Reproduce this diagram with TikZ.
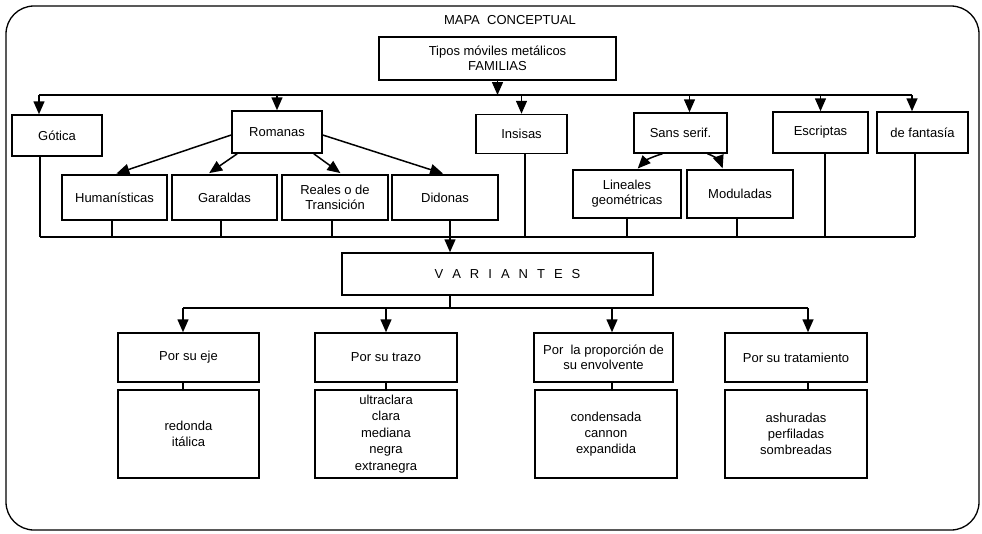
\documentclass[tikz,border=0pt]{standalone}
\usepackage{fontspec}
\setmainfont{Liberation Sans}
\usetikzlibrary{arrows.meta,calc}
\begin{document}
\begin{tikzpicture}[x=1pt,y=-1pt,
  box/.style={draw, line width=1.5pt, inner sep=0pt, align=center, font=\fontsize{13}{15}\selectfont},
  arr/.style={line width=1.5pt, -{Triangle[length=13pt,width=11pt]}},
  ln/.style={line width=1.5pt}]
\useasboundingbox (0,0) rectangle (982,533);
\draw[line width=1.3pt, rounded corners=28pt] (6,6) rectangle (979,530);

\node[font=\fontsize{13}{15}\selectfont] (title) at (510,20) {MAPA\ \ CONCEPTUAL};
\node[box, minimum width=237pt, minimum height=43pt] (tipos) at (497.5,58.5) {Tipos móviles metálicos\\FAMILIAS};

% first row
\node[box, minimum width=90pt, minimum height=41pt] (gotica) at (57,135.5) {Gótica};
\node[box, minimum width=90pt, minimum height=42pt] (romanas) at (277,132) {Romanas};
\node[box, minimum width=91pt, minimum height=39pt] (insisas) at (521.5,134) {Insisas};
\node[box, minimum width=93pt, minimum height=40pt] (sans) at (680.5,133) {Sans serif.};
\node[box, minimum width=95pt, minimum height=41pt] (escriptas) at (820.5,132.5) {Escriptas};
\node[box, minimum width=91pt, minimum height=41pt] (fantasia) at (922.5,132.5) {de fantasía};

% second row
\node[box, minimum width=105pt, minimum height=45pt] (hum) at (114.5,197.5) {Humanísticas};
\node[box, minimum width=105pt, minimum height=45pt] (gar) at (224.5,197.5) {Garaldas};
\node[box, minimum width=106pt, minimum height=45pt] (rea) at (335,197.5) {Reales o de\\Transición};
\node[box, minimum width=106pt, minimum height=45pt] (did) at (445,197.5) {Didonas};
\node[box, minimum width=108pt, minimum height=48pt] (lin) at (627,194) {Lineales\\geométricas};
\node[box, minimum width=106pt, minimum height=48pt] (mod) at (740,194) {Moduladas};

% variantes
\node[box, minimum width=311pt, minimum height=42pt] (var) at (497.5,274)
  {\hspace*{20pt}V\hspace{9pt}A\hspace{9pt}R\hspace{9pt}I\hspace{9pt}A\hspace{9pt}N\hspace{9pt}T\hspace{9pt}E\hspace{9pt}S};

\node[box, minimum width=141pt, minimum height=49pt] (eje) at (188.5,357.5) {Por su eje};
\node[box, minimum width=142pt, minimum height=49pt] (trazo) at (386,357.5) {Por su trazo};
\node[box, minimum width=139pt, minimum height=49pt] (prop) at (603.5,357.5) {Por\ \ la proporción de\\su envolvente};
\node[box, minimum width=142pt, minimum height=49pt] (trat) at (796,357.5) {Por su tratamiento};

\node[box, minimum width=141pt, minimum height=88pt, font=\fontsize{13}{16}\selectfont] (redonda) at (188.5,434) {redonda\\itálica};
\node[box, minimum width=142pt, minimum height=88pt, font=\fontsize{13}{16.5}\selectfont] (trazol) at (386,434) {ultraclara\\clara\\mediana\\negra\\extranegra};
\node[box, minimum width=142pt, minimum height=88pt, font=\fontsize{13}{16}\selectfont] (cond) at (606,434) {condensada\\cannon\\expandida};
\node[box, minimum width=142pt, minimum height=88pt, font=\fontsize{13}{16}\selectfont] (ashur) at (796,434) {ashuradas\\perfiladas\\sombreadas};

% top bus
\coordinate (tb1) at (39,95);
\coordinate (tb2) at (912,95);
\draw[ln] (tb1) -- (tb2);
\draw[arr] (tipos.south) -- (tipos.south |- tb1);
\draw[arr] (tb1) -- (tb1 |- gotica.north);
\draw[arr] (romanas.north |- tb1) -- (romanas.north);
\draw[arr] (insisas.north |- tb1) -- (insisas.north);
\draw[arr] ([xshift=9pt]sans.north |- tb1) -- ([xshift=9pt]sans.north);
\draw[arr] (escriptas.north |- tb1) -- (escriptas.north);
\draw[arr] (tb2) -- (tb2 |- fantasia.north);

% romanas children
\draw[arr, shorten >=2pt] ([yshift=-3pt]romanas.west) -- (hum.north);
\draw[arr, shorten >=2pt] ([xshift=6pt]romanas.south west) -- ([xshift=-17pt]gar.north);
\draw[arr, shorten >=2pt] ([xshift=-9pt]romanas.south east) -- ([xshift=7pt]rea.north);
\draw[arr, shorten >=2pt] ([yshift=-3pt]romanas.east) -- (did.north);

% sans children
\draw[arr, shorten >=1pt] ([xshift=-18pt]sans.south) to[bend right=15] ([xshift=10pt]lin.north);
\draw[arr, shorten >=1pt] ([xshift=27pt]sans.south) to[bend left=25] ([xshift=-17pt]mod.north);

% collecting bus
\coordinate (cb1) at (40,237);
\coordinate (cb2) at (915,237);
\draw[ln] (cb1) -- (cb2);
\draw[ln] (cb1 |- gotica.south) -- (cb1);
\draw[ln] ([xshift=-2.5pt]hum.south) -- ([xshift=-2.5pt]hum.south |- cb1);
\draw[ln] ([xshift=-3.5pt]gar.south) -- ([xshift=-3.5pt]gar.south |- cb1);
\draw[ln] ([xshift=-3pt]rea.south) -- ([xshift=-3pt]rea.south |- cb1);
\draw[ln] ([xshift=3.5pt]insisas.south) -- ([xshift=3.5pt]insisas.south |- cb1);
\draw[ln] (lin.south) -- (lin.south |- cb1);
\draw[ln] ([xshift=-3pt]mod.south) -- ([xshift=-3pt]mod.south |- cb1);
\draw[ln] ([xshift=4.5pt]escriptas.south) -- ([xshift=4.5pt]escriptas.south |- cb1);
\draw[ln] (cb2 |- fantasia.south) -- (cb2);
\draw[arr] ([xshift=5pt]did.south) -- ([xshift=5pt]did.south |- var.north);

% variantes bus
\coordinate (vb1) at (183,308);
\coordinate (vb2) at (808,308);
\draw[ln] (vb1) -- (vb2);
\draw[ln] ([xshift=-47.5pt]var.south) -- ([xshift=-47.5pt]var.south |- vb1);
\draw[arr] (vb1) -- (vb1 |- eje.north);
\draw[arr] (trazo.north |- vb1) -- (trazo.north);
\draw[arr] ([xshift=8.5pt]prop.north |- vb1) -- ([xshift=8.5pt]prop.north);
\draw[arr] (vb2) -- (vb2 |- trat.north);

\draw[ln] (vb1 |- eje.south) -- (vb1 |- redonda.north);
\draw[ln] (trazo.south) -- (trazol.north);
\draw[ln] ([xshift=8.5pt]prop.south) -- ([xshift=8.5pt]prop.south |- cond.north);
\draw[ln] (vb2 |- trat.south) -- (vb2 |- ashur.north);
\end{tikzpicture}
\end{document}
